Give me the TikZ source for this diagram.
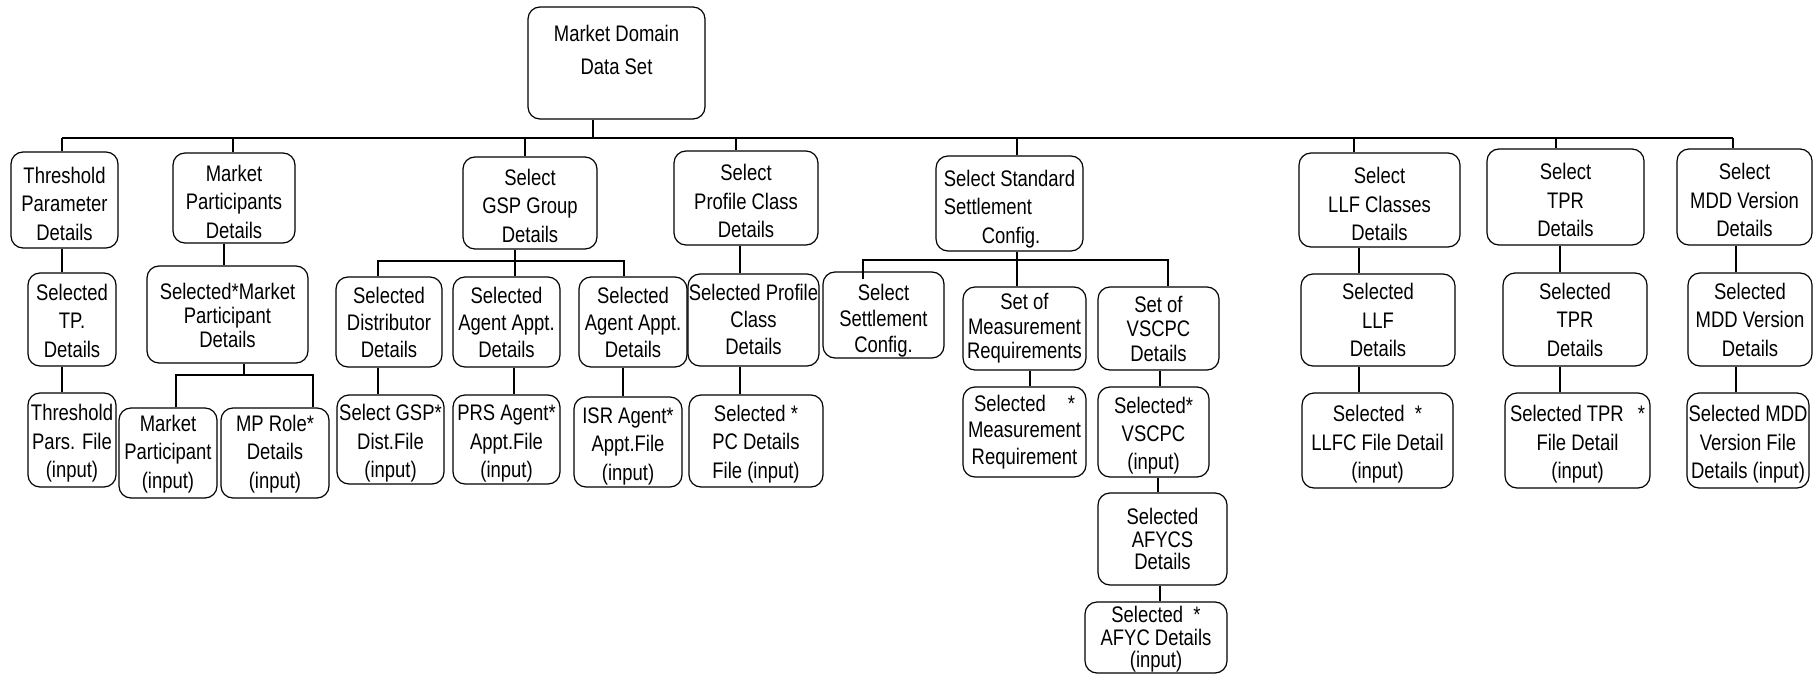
\documentclass[tikz,border=0pt]{standalone}
\usepackage{fontspec}
\setmainfont{Liberation Sans}[FakeStretch=0.82]
\tikzset{
  bx/.style={draw, line width=0.6pt, rounded corners=6pt, inner sep=0pt},
  tx/.style={inner sep=0pt, align=center, font=\fontsize{11.25pt}{14.25pt}\selectfont},
  ln/.style={line width=0.55pt},
}
% [text options]{name}{x1}{y1}{x2}{y2}{downward text shift}{text}
\newcommand\bxx[8][]{%
  \node[bx,minimum width={(#5-#3)*0.5pt},minimum height={(#6-#4)*0.5pt}] (#2) at ({(#3+#5)/2},{(#4+#6)/2}) {};
  \node[tx,#1] (#2-t) at ([yshift=-#7]#2.center) {#8};}
\begin{document}
\begin{tikzpicture}[x=0.5pt,y=-0.5pt]
\useasboundingbox (0,0) rectangle (1820,674);
% root
\bxx[font=\fontsize{11.25pt}{16.5pt}\selectfont]{root}{528}{7}{705}{119}{0pt}{Market Domain\\Data Set\\[-3.5pt]\mbox{}}
% level 1
\bxx{th}{11}{152}{118}{248}{1.75pt}{Threshold\\Parameter\\Details}
\bxx{mp}{173}{153}{295}{243}{1.75pt}{Market\\Participants\\Details}
\bxx{gsp}{463}{157}{597}{249}{1.25pt}{Select\\GSP Group\\Details}
\bxx{pc}{674}{151}{818}{245}{1.5pt}{Select\\Profile Class\\Details}
\bxx[align=left]{ssc}{936}{156}{1083}{251}{2.6pt}{Select Standard\\Settlement\\\hspace*{19pt}Config.}
\bxx{llf}{1299}{153}{1460}{247}{2pt}{Select\\LLF Classes\\Details}
\bxx{tpr}{1487}{149}{1644}{245}{1.5pt}{Select\\TPR\\Details}
\bxx{mdd}{1677}{149}{1812}{245}{1.5pt}{Select\\MDD Version\\Details}
% level 2
\bxx{stp}{28}{273}{116}{366}{0.5pt}{Selected\\TP.\\Details}
\bxx[font=\fontsize{11.25pt}{12pt}\selectfont]{smp}{147}{266}{308}{363}{0.5pt}{Selected*Market\\Participant\\Details}
\bxx[font=\fontsize{11.25pt}{13.5pt}\selectfont]{sd}{336}{277}{442}{367}{0pt}{Selected\\Distributor\\Details}
\bxx[font=\fontsize{11.25pt}{13.5pt}\selectfont]{sag1}{453}{277}{560}{367}{0pt}{Selected\\Agent Appt.\\Details}
\bxx[font=\fontsize{11.25pt}{13.5pt}\selectfont]{sag2}{579}{277}{687}{367}{0pt}{Selected\\Agent Appt.\\Details}
\bxx[font=\fontsize{11.25pt}{13.5pt}\selectfont]{spc}{688}{274}{819}{366}{-0.5pt}{Selected Profile\\Class\\Details}
\bxx[font=\fontsize{11.25pt}{13pt}\selectfont]{sscf}{823}{272}{944}{358}{3pt}{Select\\Settlement\\Config.}
\bxx[font=\fontsize{11.25pt}{12.25pt}\selectfont]{smrs}{963}{287}{1086}{370}{0pt}{Set of\\Measurement\\Requirements}
\bxx[font=\fontsize{11.25pt}{12.25pt}\selectfont]{svs}{1098}{287}{1219}{370}{0pt}{Set of\\VSCPC\\Details}
\bxx{sllf}{1301}{274}{1455}{366}{0pt}{Selected\\LLF\\Details}
\bxx{stpr}{1503}{273}{1647}{366}{0pt}{Selected\\TPR\\Details}
\bxx{smdd}{1688}{273}{1812}{366}{0pt}{Selected\\MDD Version\\Details}
% level 3
\bxx{tpf}{28}{393}{116}{487}{1.75pt}{Threshold\\Pars. File\\(input)}
\bxx{mpi}{119}{408}{217}{498}{0.5pt}{Market\\Participant\\(input)}
\bxx{mpr}{221}{408}{329}{498}{0.5pt}{MP Role*\\Details\\(input)}
\bxx{gspf}{337}{395}{444}{484}{2pt}{Select GSP*\\Dist.File\\(input)}
\bxx{prs}{453}{395}{560}{484}{2pt}{PRS Agent*\\Appt.File\\(input)}
\bxx{isr}{574}{397}{682}{487}{2pt}{ISR Agent*\\Appt.File\\(input)}
\bxx{pcf}{689}{395}{823}{487}{1.5pt}{Selected *\\PC Details\\File (input)}
\bxx[font=\fontsize{11.25pt}{13.3pt}\selectfont]{smr}{963}{387}{1086}{477}{0pt}{Selected\hspace{11pt}*\\Measurement\\Requirement}
\bxx[font=\fontsize{11.25pt}{14pt}\selectfont]{svsc}{1098}{387}{1209}{477}{2pt}{Selected*\\VSCPC\\(input)}
\bxx{llfc}{1302}{393}{1453}{488}{2pt}{Selected\ \ *\\LLFC File Detail\\(input)}
\bxx{tprf}{1505}{393}{1650}{488}{2pt}{Selected TPR\hspace{7pt}*\\File Detail\\(input)}
\bxx{mddf}{1687}{393}{1809}{488}{2pt}{Selected MDD\\Version File\\Details (input)}
% level 4/5
\bxx[font=\fontsize{11.25pt}{11.25pt}\selectfont]{afycs}{1098}{493}{1227}{585}{0pt}{Selected\\AFYCS\\Details}
\bxx[font=\fontsize{11.25pt}{11.25pt}\selectfont]{afyc}{1085}{602}{1227}{673}{1pt}{Selected\ \ *\\AFYC Details\\(input)}
% bus coordinates
\coordinate (b1) at (62,138);
\coordinate (b2) at (176,375);
\coordinate (b3) at (378,261);
\coordinate (b4) at (863,260);
% root bus
\draw[ln] (root.south -| 593,0) -- (b1 -| 593,0);
\draw[ln] (b1) -- (b1 -| 1733,0);
\draw[ln] (b1) -- (th.north -| b1);
\draw[ln] (b1 -| 233,0) -- (mp.north -| 233,0);
\draw[ln] (b1 -| 525,0) -- (gsp.north -| 525,0);
\draw[ln] (b1 -| 736,0) -- (pc.north -| 736,0);
\draw[ln] (b1 -| 1017,0) -- (ssc.north -| 1017,0);
\draw[ln] (b1 -| 1354,0) -- (llf.north -| 1354,0);
\draw[ln] (b1 -| 1556,0) -- (tpr.north -| 1556,0);
\draw[ln] (b1 -| 1733,0) -- (mdd.north -| 1733,0);
% threshold column
\draw[ln] (th.south -| 62,0) -- (stp.north -| 62,0);
\draw[ln] (stp.south -| 62,0) -- (tpf.north -| 62,0);
% market participants
\draw[ln] (mp.south -| 224,0) -- (smp.north -| 224,0);
\draw[ln] (smp.south -| 244,0) -- (b2 -| 244,0);
\draw[ln] (mpi.north -| b2) -- (b2) -- (b2 -| 313,0) -- (mpr.north -| 313,0);
% GSP group
\draw[ln] (gsp.south -| 515,0) -- (sag1.north -| 515,0);
\draw[ln] (sd.north -| b3) -- (b3) -- (b3 -| 624,0) -- (sag2.north -| 624,0);
\draw[ln] (sd.south -| 378,0) -- (gspf.north -| 378,0);
\draw[ln] (sag1.south -| 514,0) -- (prs.north -| 514,0);
\draw[ln] (sag2.south -| 623,0) -- (isr.north -| 623,0);
% profile class
\draw[ln] (pc.south -| 740,0) -- (spc.north -| 740,0);
\draw[ln] (spc.south -| 740,0) -- (pcf.north -| 740,0);
% standard settlement config
\draw[ln] (ssc.south -| 1017,0) -- (smrs.north -| 1017,0);
\draw[ln] ([yshift=-4pt]sscf.north -| b4) -- (b4) -- (b4 -| 1168,0) -- (svs.north -| 1168,0);
\draw[ln] (smrs.south -| 1030,0) -- (smr.north -| 1030,0);
\draw[ln] (svs.south -| 1160,0) -- (svsc.north -| 1160,0);
\draw[ln] (svsc.south -| 1158,0) -- (afycs.north -| 1158,0);
\draw[ln] (afycs.south -| 1160,0) -- (afyc.north -| 1160,0);
% LLF, TPR, MDD
\draw[ln] (llf.south -| 1359,0) -- (sllf.north -| 1359,0);
\draw[ln] (sllf.south -| 1359,0) -- (llfc.north -| 1359,0);
\draw[ln] (tpr.south -| 1560,0) -- (stpr.north -| 1560,0);
\draw[ln] (stpr.south -| 1560,0) -- (tprf.north -| 1560,0);
\draw[ln] (mdd.south -| 1736,0) -- (smdd.north -| 1736,0);
\draw[ln] (smdd.south -| 1736,0) -- (mddf.north -| 1736,0);
\end{tikzpicture}
\end{document}
